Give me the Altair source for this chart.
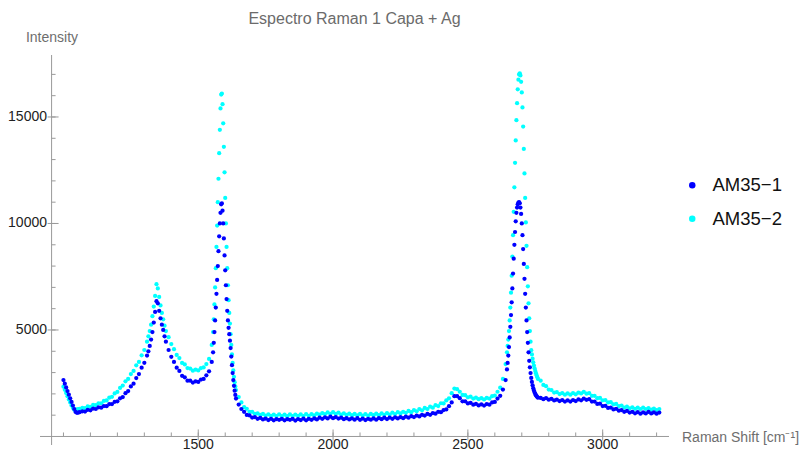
import numpy as np
import pandas as pd
import altair as alt

FONT = "Liberation Sans"

# Wavenumber sampling (cm^-1): (start, stop, step) for each stretch of the spectrum;
# the sharp G and 2D bands are sampled more finely.
SEGMENTS = [(1000, 1060, 5), (1070, 1310, 10), (1315, 1380, 5), (1390, 1550, 10),
            (1555, 1640, 2.5), (1650, 2640, 10), (2645, 2760, 2.5), (2770, 3210, 10)]

# Intensity of sample AM35-1, one block per segment above
AM35_1 = [
    2650, 2480, 2300, 2130, 1960, 1790, 1620, 1450, 1290, 1150, 1110, 1120, 1140,
    1180, 1170, 1250, 1230, 1310, 1290, 1370, 1350, 1430, 1420, 1520, 1520, 1630,
    1650, 1790, 1850, 2030, 2130, 2350, 2480, 2740, 2930, 3230, 3460, 3800,
    4000, 4250, 4550, 4900, 5350, 5850, 6350, 6250, 5900, 5550, 5250, 5000, 4700, 4450,
    4060, 3740, 3500, 3230, 3080, 2850, 2780, 2620, 2620, 2530, 2590, 2560, 2670,
    2700, 2870, 3060, 3500,
    3950, 4400, 4900, 5450, 6050, 6700, 7350, 8000, 8700, 9400, 10000, 10500, 10900,
    10950, 10600, 10000, 9300, 8500, 7800, 7100, 6450, 5900, 5450, 5100, 4800, 4500,
    4150, 3750, 3350, 2980, 2650, 2380, 2150, 1950, 1780,
    1500, 1290, 1160, 1010, 990, 890, 910, 830, 870, 800,
    840, 770, 830, 760, 820, 780, 830, 760, 810, 780,
    830, 750, 820, 770, 840, 760, 830, 780, 850, 800,
    880, 830, 900, 850, 930, 860, 910, 840, 880, 810,
    860, 800, 850, 790, 860, 780, 840, 770, 830, 790,
    850, 790, 860, 810, 880, 820, 890, 830, 900, 850,
    910, 860, 930, 880, 950, 910, 980, 940, 1020, 980,
    1060, 1020, 1100, 1070, 1160, 1140, 1240, 1270, 1420, 1600,
    1890, 1900, 1800, 1650, 1650, 1550, 1580, 1490, 1530, 1460,
    1510, 1450, 1520, 1490, 1600, 1620, 1780, 1910, 2200, 2650,
    3150, 3450, 3800, 4200, 4650, 5150, 5700, 6300, 6950, 7650,
    8350, 9000, 9600, 10100, 10500, 10750, 10900, 10980, 11000, 10950,
    10750, 10450, 10000, 9450, 8800, 8100, 7400, 6700, 6050, 5450,
    4900, 4400, 3950, 3550, 3250, 2980, 2750, 2560, 2400, 2270,
    2160, 2070, 2000, 1940, 1890, 1850, 1820,
    1810, 1750, 1800, 1730, 1770, 1690, 1730, 1660, 1710,
    1640, 1700, 1640, 1710, 1660, 1740, 1700, 1780, 1720, 1750,
    1640, 1640, 1530, 1540, 1430, 1440, 1340, 1360, 1270, 1300,
    1210, 1240, 1160, 1200, 1120, 1160, 1090, 1140, 1070, 1130,
    1080, 1150, 1080, 1130, 1070, 1120,
]

# Intensity of sample AM35-2, same sampling
AM35_2 = [
    2340, 2190, 2040, 1890, 1740, 1600, 1460, 1340, 1250, 1250, 1270, 1290, 1300,
    1340, 1330, 1410, 1390, 1480, 1470, 1560, 1560, 1670, 1690, 1820, 1860, 2020,
    2090, 2280, 2390, 2590, 2700, 2930, 3080, 3340, 3500, 3810, 4060, 4450,
    4700, 4950, 5250, 5650, 6100, 6600, 7150, 6950, 6550, 6150, 5800, 5500, 5200, 4950,
    4660, 4340, 4100, 3830, 3680, 3450, 3380, 3210, 3190, 3090, 3140, 3100, 3210,
    3240, 3400, 3640, 4300,
    4900, 5500, 6200, 7000, 7900, 8900, 9900, 11000, 12100, 13300, 14400, 15400, 16050,
    16100, 15600, 14700, 13600, 12400, 11200, 10000, 8900, 7900, 7100, 6400, 5800, 5300,
    4800, 4300, 3850, 3450, 3100, 2800, 2550, 2350, 2180,
    1850, 1600, 1380, 1300, 1160, 1160, 1060, 1090, 1010, 1060,
    980, 1040, 970, 1030, 960, 1040, 960, 1030, 950, 1040,
    960, 1030, 970, 1040, 960, 1050, 970, 1050, 990, 1070,
    1030, 1100, 1050, 1130, 1060, 1140, 1060, 1120, 1030, 1090,
    1010, 1070, 1000, 1060, 990, 1060, 980, 1050, 980, 1060,
    1000, 1070, 1000, 1090, 1020, 1100, 1030, 1120, 1050, 1140,
    1080, 1160, 1110, 1200, 1140, 1240, 1180, 1290, 1230, 1340,
    1290, 1400, 1350, 1470, 1430, 1560, 1550, 1690, 1790, 2030,
    2250, 2220, 2100, 1950, 1940, 1840, 1870, 1780, 1820, 1750,
    1800, 1740, 1810, 1780, 1890, 1920, 2100, 2290, 2700, 3400,
    3950, 4250, 4550, 4950, 5450, 6050, 6750, 7550, 8450, 9450,
    10550, 11700, 12850, 13900, 14850, 15650, 16300, 16750, 17000, 17050,
    16950, 16650, 16150, 15450, 14550, 13500, 12350, 11200, 10050, 8950,
    7950, 7050, 6250, 5550, 4950, 4450, 4050, 3850, 3650, 3480,
    3330, 3200, 3080, 2970, 2870, 2780, 2700,
    2620, 2420, 2360, 2200, 2180, 2060, 2080, 1990, 2030,
    1960, 2020, 1960, 2030, 1980, 2060, 2020, 2090, 2010, 2030,
    1910, 1910, 1800, 1810, 1700, 1710, 1600, 1610, 1510, 1530,
    1430, 1450, 1360, 1400, 1320, 1370, 1300, 1350, 1290, 1350,
    1290, 1330, 1260, 1310, 1240, 1290,
]

SERIES = ["AM35\u22121", "AM35\u22122"]
COLORS = ["#0000ff", "#00ffff"]

X_TICK_LABELS = [1500, 2000, 2500, 3000]
X_MINOR = list(range(1000, 3201, 100))
Y_TICK_LABELS = [5000, 10000, 15000]
Y_MINOR = list(range(1000, 17001, 1000))

# where the two axes cross, and the plot range
X_ORIGIN, Y_ORIGIN = 956, 0
X_RANGE = [913, 3246]
Y_RANGE = [-400, 17910]

shift = np.concatenate([np.arange(a, b + s / 2, s) for a, b, s in SEGMENTS])
assert len(shift) == len(AM35_1) == len(AM35_2)

n = len(shift)
df = pd.DataFrame({
    "shift": np.concatenate([shift, shift]),
    "intensity": AM35_2 + AM35_1,
    "sample": [SERIES[1]] * n + [SERIES[0]] * n,
    "draw": [0] * n + [1] * n,
})

xs = alt.Scale(domain=X_RANGE, nice=False, zero=False)
ys = alt.Scale(domain=Y_RANGE, nice=False, zero=False)

W, H = 629, 390
PX_X = (X_RANGE[1] - X_RANGE[0]) / W   # data units per pixel
PX_Y = (Y_RANGE[1] - Y_RANGE[0]) / H
AXIS_GREY = "#9a9a9a"
LABEL_COLOR = "#222222"

points = alt.Chart(df).mark_circle(size=18, opacity=1).encode(
    x=alt.X("shift:Q", scale=xs, axis=None),
    y=alt.Y("intensity:Q", scale=ys, axis=None),
    color=alt.Color("sample:N", scale=alt.Scale(domain=SERIES, range=COLORS),
                    legend=alt.Legend(title=None, orient="none", legendX=643, legendY=121,
                                      symbolType="circle", symbolSize=42, labelFontSize=18.5,
                                      labelOffset=11, rowPadding=14.5, labelFont=FONT,
                                      labelColor="#111", padding=0)),
    order=alt.Order("draw:Q"),
)

# axis lines crossing at the origin
axis_df = pd.DataFrame({
    "x0": [X_RANGE[0], X_ORIGIN], "x1": [X_RANGE[1], X_ORIGIN],
    "y0": [Y_ORIGIN, Y_RANGE[0]], "y1": [Y_ORIGIN, Y_RANGE[1]],
})
axis_lines = alt.Chart(axis_df).mark_rule(color=AXIS_GREY, strokeWidth=1).encode(
    x=alt.X("x0:Q", scale=xs, axis=None), x2="x1",
    y=alt.Y("y0:Q", scale=ys, axis=None), y2="y1",
)

def y_ticks(values, left_px, right_px):
    d = pd.DataFrame({"v": values, "a": X_ORIGIN - left_px * PX_X, "b": X_ORIGIN + right_px * PX_X})
    return alt.Chart(d).mark_rule(color=AXIS_GREY, strokeWidth=1).encode(
        x=alt.X("a:Q", scale=xs, axis=None), x2="b",
        y=alt.Y("v:Q", scale=ys, axis=None))

def x_ticks(values, down_px, up_px):
    d = pd.DataFrame({"v": values, "a": Y_ORIGIN - down_px * PX_Y, "b": Y_ORIGIN + up_px * PX_Y})
    return alt.Chart(d).mark_rule(color=AXIS_GREY, strokeWidth=1).encode(
        y=alt.Y("a:Q", scale=ys, axis=None), y2="b",
        x=alt.X("v:Q", scale=xs, axis=None))

ticks = [
    y_ticks(Y_MINOR, 0, 4), y_ticks(Y_TICK_LABELS, 4, 7),
    x_ticks(X_MINOR, 0, 4), x_ticks(X_TICK_LABELS, 4, 7),
]

# tick labels, placed through the scales
x_labels = alt.Chart(pd.DataFrame({"v": X_TICK_LABELS})).mark_text(
    font=FONT, fontSize=14, color=LABEL_COLOR, align="center", baseline="top"
).encode(x=alt.X("v:Q", scale=xs, axis=None), y=alt.value(383),
         text=alt.Text("v:Q", format="d"))

y_labels = alt.Chart(pd.DataFrame({"v": Y_TICK_LABELS})).mark_text(
    font=FONT, fontSize=14, color=LABEL_COLOR, align="right", baseline="middle"
).encode(y=alt.Y("v:Q", scale=ys, axis=None), x=alt.value(7),
         text=alt.Text("v:Q", format="d"))

y_title = alt.Chart(pd.DataFrame({"t": ["Intensity"]})).mark_text(
    font=FONT, fontSize=14, color="#6e6e6e", align="center", baseline="middle"
).encode(x=alt.value(12), y=alt.value(-17), text="t:N")

x_title = alt.Chart(pd.DataFrame({"t": ["Raman Shift [cm\u207b\u00b9]"]})).mark_text(
    font=FONT, fontSize=14, color="#6e6e6e", align="left", baseline="middle"
).encode(x=alt.value(642), y=alt.value(383), text="t:N")

chart = alt.layer(axis_lines, *ticks, points, x_labels, y_labels, y_title, x_title).properties(
    width=W, height=H,
    title=alt.Title("Espectro Raman 1 Capa + Ag", font=FONT, fontSize=16,
                    fontWeight="normal", color="#6b6b6b", anchor="middle", offset=4),
    autosize=alt.AutoSizeParams(type="none"),
    padding={"left": 40, "top": 55, "right": 800 - 40 - W, "bottom": 453 - 55 - H},
    background="white",
).configure_view(stroke=None)

chart.save("out.html", embed_options={"renderer": "svg", "actions": False})
